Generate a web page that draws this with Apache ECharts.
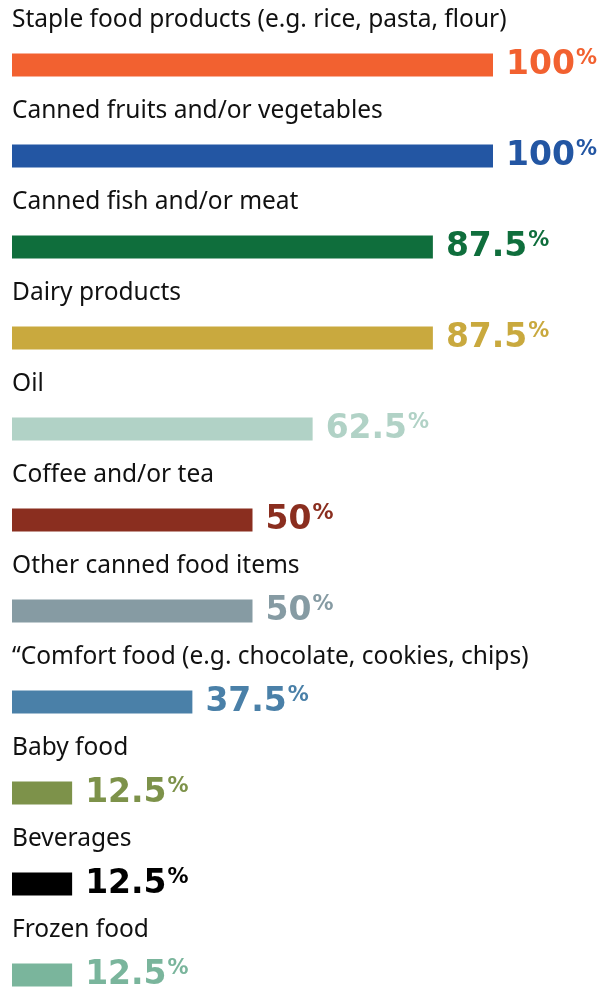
<!DOCTYPE html>
<html><head><meta charset="utf-8">
<script src="https://cdn.jsdelivr.net/npm/echarts@6/dist/echarts.min.js"></script>
<style>html,body{margin:0;padding:0;background:#fff}#c{width:601px;height:989px}</style>
</head><body><div id="c"></div>
<script>
const categories = [
  "Staple food products (e.g. rice, pasta, flour)",
  "Canned fruits and/or vegetables",
  "Canned fish and/or meat",
  "Dairy products",
  "Oil",
  "Coffee and/or tea",
  "Other canned food items",
  "\u201cComfort food (e.g. chocolate, cookies, chips)",
  "Baby food",
  "Beverages",
  "Frozen food"
];
const values = [100, 100, 87.5, 87.5, 62.5, 50, 50, 37.5, 12.5, 12.5, 12.5];
const colors = ["#F26130", "#2356A3", "#0F6E3C", "#C9A93E", "#B1D2C6", "#8A2E1F", "#869BA3", "#4A80A8", "#7D924A", "#000000", "#7AB59C"];

const chart = echarts.init(document.getElementById('c'), null, {renderer: 'canvas'});
chart.setOption({
  animation: false,
  grid: {left: 12, right: 108, top: 65, bottom: 14, containLabel: false},
  xAxis: {type: 'value', min: 0, max: 100, show: false},
  yAxis: {
    type: 'category', data: categories, inverse: true, boundaryGap: false,
    axisLine: {show: false}, axisTick: {show: false}, splitLine: {show: false},
    axisLabel: {show: false}
  },
  series: [{
    type: 'bar', barWidth: 23, z: 2,
    data: values.map((v, i) => ({value: v, itemStyle: {color: colors[i]},
      label: {rich: {
        n: {fontFamily: 'DejaVu Sans', fontWeight: 'bold', fontSize: 33, color: colors[i], lineHeight: 34},
        p: {fontFamily: 'DejaVu Sans', fontWeight: 'bold', fontSize: 21, color: colors[i], verticalAlign: 'top', lineHeight: 21, padding: [0, 0, 16, 1]}
      }}})),
    label: {
      show: true, position: 'right', distance: 13,
      formatter: p => '{n|' + String(p.value) + '}{p|%}'
    }
  }, {
    type: 'bar', barWidth: 23, barGap: '-100%', z: 3, silent: true,
    data: values.map(v => ({value: v, itemStyle: {color: 'rgba(0,0,0,0)'}})),
    label: {
      show: true, position: [0, -33], align: 'left', verticalAlign: 'middle',
      fontFamily: 'Noto Sans', fontSize: 24.5, color: '#111',
      formatter: p => categories[p.dataIndex]
    }
  }]
});
</script></body></html>
